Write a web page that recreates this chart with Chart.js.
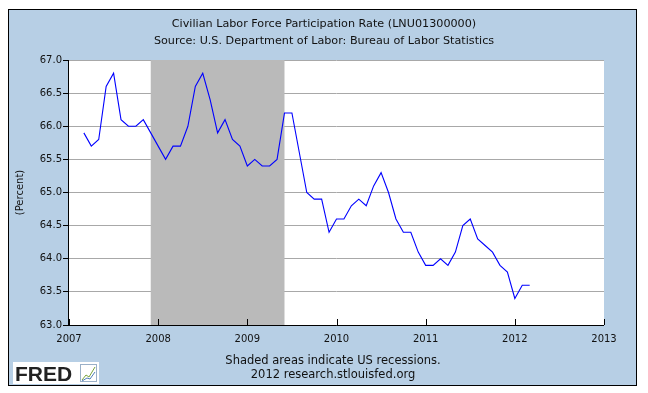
<!DOCTYPE html>
<html>
<head>
<meta charset="utf-8">
<script src="https://cdn.jsdelivr.net/npm/chart.js@4.4.1/dist/chart.umd.min.js"></script>
<style>
  html, body { margin: 0; padding: 0; background: #fff; }
  #wrap { width: 648px; height: 393px; }
</style>
</head>
<body>
<div id="wrap"><canvas id="chart" width="648" height="393"></canvas></div>
<script>
// monthly observations, LNU01300000
const months = [
  '2007-03','2007-04','2007-05','2007-06','2007-07','2007-08','2007-09','2007-10','2007-11','2007-12',
  '2008-01','2008-02','2008-03','2008-04','2008-05','2008-06','2008-07','2008-08','2008-09','2008-10','2008-11','2008-12',
  '2009-01','2009-02','2009-03','2009-04','2009-05','2009-06','2009-07','2009-08','2009-09','2009-10','2009-11','2009-12',
  '2010-01','2010-02','2010-03','2010-04','2010-05','2010-06','2010-07','2010-08','2010-09','2010-10','2010-11','2010-12',
  '2011-01','2011-02','2011-03','2011-04','2011-05','2011-06','2011-07','2011-08','2011-09','2011-10','2011-11','2011-12',
  '2012-01','2012-02','2012-03'
];
const rates = [
  65.9, 65.7, 65.8, 66.6, 66.8, 66.1, 66.0, 66.0, 66.1, 65.9,
  65.7, 65.5, 65.7, 65.7, 66.0, 66.6, 66.8, 66.4, 65.9, 66.1, 65.8, 65.7,
  65.4, 65.5, 65.4, 65.4, 65.5, 66.2, 66.2, 65.6, 65.0, 64.9, 64.9, 64.4,
  64.6, 64.6, 64.8, 64.9, 64.8, 65.1, 65.3, 65.0, 64.6, 64.4, 64.4, 64.1,
  63.9, 63.9, 64.0, 63.9, 64.1, 64.5, 64.6, 64.3, 64.2, 64.1, 63.9, 63.8,
  63.4, 63.6, 63.6
];
const yearTicks = [2007, 2008, 2009, 2010, 2011, 2012, 2013];
const rateTicks = [63.0, 63.5, 64.0, 64.5, 65.0, 65.5, 66.0, 66.5, 67.0];
const recessionStart = ['2007-12'];
const recessionEnd = ['2009-06'];
const titleLines = [
  'Civilian Labor Force Participation Rate (LNU01300000)',
  'Source: U.S. Department of Labor: Bureau of Labor Statistics'
];
const footLines = ['Shaded areas indicate US recessions.', '2012 research.stlouisfed.org'];

const FONT = '"DejaVu Sans", sans-serif';
const toYear = m => {
  const [y, mo] = m.split('-').map(Number);
  return y + (mo - 1) / 12;
};

// frame, panel background, recession bars, inward x ticks, footer
const fredPlugin = {
  id: 'fred',
  beforeDraw(chart) {
    const { ctx, chartArea: a } = chart;
    ctx.save();
    ctx.fillStyle = '#ffffff';
    ctx.fillRect(0, 0, chart.width, chart.height);
    ctx.fillStyle = '#b7cfe5';
    ctx.fillRect(8, 9, 629, 377);
    ctx.strokeStyle = '#000';
    ctx.lineWidth = 1;
    ctx.strokeRect(8.5, 9.5, 628, 376);
    ctx.fillStyle = '#ffffff';
    ctx.fillRect(a.left, a.top, a.right - a.left, a.bottom - a.top);
    ctx.restore();
  },
  beforeDatasetsDraw(chart) {
    const { ctx, chartArea: a, scales: { x } } = chart;
    ctx.save();
    ctx.fillStyle = '#bababa';
    recessionStart.forEach((s, i) => {
      const x0 = x.getPixelForValue(toYear(s));
      const x1 = x.getPixelForValue(toYear(recessionEnd[i]));
      ctx.fillRect(x0, a.top, x1 - x0, a.bottom - a.top);
    });
    ctx.restore();
  },
  afterDatasetsDraw(chart) {
    const { ctx, chartArea: a, scales: { x } } = chart;
    ctx.save();
    ctx.strokeStyle = '#000';
    ctx.lineWidth = 1;
    ctx.beginPath();
    yearTicks.forEach(v => {
      const px = Math.round(x.getPixelForValue(v)) + 0.5;
      ctx.moveTo(px, a.bottom);
      ctx.lineTo(px, a.bottom - 6);
    });
    ctx.moveTo(a.left - 0.5, a.top);
    ctx.lineTo(a.left - 0.5, a.bottom + 0.5);
    ctx.lineTo(a.right, a.bottom + 0.5);
    ctx.stroke();
    ctx.restore();
  },
  afterDraw(chart) {
    const { ctx } = chart;
    ctx.save();
    ctx.fillStyle = '#111';
    ctx.font = '11.5px ' + FONT;
    ctx.textAlign = 'center';
    ctx.textBaseline = 'middle';
    ctx.fillText(footLines[0], 333, 361);
    ctx.fillText(footLines[1], 333, 375);
    // FRED logo
    ctx.fillStyle = '#fff';
    ctx.fillRect(13, 362, 86, 22);
    ctx.fillStyle = '#222';
    ctx.font = 'bold 21px "Liberation Sans", sans-serif';
    ctx.textAlign = 'left';
    ctx.textBaseline = 'alphabetic';
    ctx.fillText('FRED', 15, 381);
    ctx.strokeStyle = '#9ab0c8';
    ctx.lineWidth = 1;
    ctx.strokeRect(80.5, 364.5, 16, 17);
    ctx.strokeStyle = '#7aa43c';
    ctx.beginPath();
    ctx.moveTo(82, 380); ctx.lineTo(86, 375); ctx.lineTo(89, 377); ctx.lineTo(95, 367);
    ctx.stroke();
    ctx.strokeStyle = '#4f7fb8';
    ctx.beginPath();
    ctx.moveTo(82, 381); ctx.lineTo(87, 378); ctx.lineTo(90, 379); ctx.lineTo(95, 372);
    ctx.stroke();
    ctx.restore();
  }
};

new Chart(document.getElementById('chart'), {
  type: 'line',
  data: {
    datasets: [{
      label: 'LNU01300000',
      data: months.map((m, i) => ({ x: toYear(m), y: rates[i] })),
      borderColor: '#0000ff',
      borderWidth: 1.1,
      pointRadius: 0,
      tension: 0,
      fill: false
    }]
  },
  options: {
    responsive: false,
    animation: false,
    devicePixelRatio: 1,
    layout: { padding: 0 },
    plugins: {
      legend: { display: false },
      tooltip: { enabled: false },
      title: {
        display: true,
        text: titleLines,
        color: '#111',
        font: { family: FONT, size: 11.2, weight: 'normal', lineHeight: 1.55 },
        padding: { top: 15.5, bottom: 9.8 }
      }
    },
    scales: {
      x: {
        type: 'linear',
        min: 2007,
        max: 2013,
        afterBuildTicks: s => { s.ticks = yearTicks.map(v => ({ value: v })); },
        afterFit: s => { s.height = 68; },
        grid: { display: false },
        border: { display: false },
        ticks: {
          autoSkip: false,
          maxRotation: 0,
          padding: 0,
          color: '#111',
          font: { family: FONT, size: 10 },
          callback: v => String(v)
        }
      },
      y: {
        min: 63,
        max: 67,
        afterBuildTicks: s => { s.ticks = rateTicks.map(v => ({ value: v })); },
        afterFit: s => { s.width = 69; },
        grid: { color: '#a8a8a8', tickColor: '#000', tickLength: 6, lineWidth: 1 },
        border: { display: false },
        ticks: {
          padding: 1,
          color: '#111',
          font: { family: FONT, size: 10 },
          callback: v => v.toFixed(1)
        },
        title: {
          display: true,
          text: '(Percent)',
          color: '#111',
          font: { family: FONT, size: 10 },
          padding: { top: 14, bottom: 0 }
        }
      },
      // empty right-hand gutter so the title stays centred on the frame
      gutter: {
        position: 'right',
        min: 0,
        max: 1,
        afterFit: s => { s.width = 44; },
        grid: { display: false },
        border: { display: false },
        ticks: { display: false }
      }
    }
  },
  plugins: [fredPlugin]
});
</script>
</body>
</html>
